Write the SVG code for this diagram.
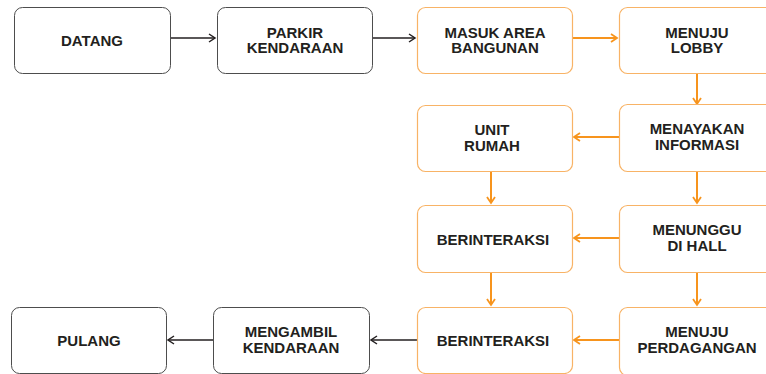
<svg xmlns="http://www.w3.org/2000/svg" width="766" height="374" viewBox="0 0 766 374">
<style>
.bk{fill:#fff;stroke:#4d4d4d;stroke-width:1}
.or{fill:#fff;stroke:#f8b366;stroke-width:1.2}
text{font-family:"Liberation Sans",Arial,sans-serif;font-weight:bold;font-size:15px;fill:#231f20;text-anchor:middle}
.cb{stroke:#231f20;stroke-width:1.5;fill:none}
.co{stroke:#f7941d;stroke-width:2;fill:none}
</style>
<defs>
<marker id="ab" markerWidth="10" markerHeight="10" refX="8" refY="5" orient="auto" markerUnits="userSpaceOnUse"><path d="M2,1 L8,5 L2,9" fill="none" stroke="#231f20" stroke-width="1.5"/></marker>
<marker id="ao" markerWidth="10" markerHeight="10" refX="8" refY="5" orient="auto" markerUnits="userSpaceOnUse"><path d="M2,1 L8,5 L2,9" fill="none" stroke="#f7941d" stroke-width="1.8"/></marker>
</defs>
<g id="connectors">
<line class="cb" x1="170" y1="38" x2="215" y2="38" marker-end="url(#ab)"/>
<line class="cb" x1="372" y1="38" x2="415" y2="38" marker-end="url(#ab)"/>
<line class="co" x1="573" y1="38" x2="617" y2="38" marker-end="url(#ao)"/>
<line class="co" x1="697" y1="73" x2="697" y2="104" marker-end="url(#ao)"/>
<line class="co" x1="619" y1="137" x2="574" y2="137" marker-end="url(#ao)"/>
<line class="co" x1="491" y1="171" x2="491" y2="203" marker-end="url(#ao)"/>
<line class="co" x1="697" y1="171" x2="697" y2="203" marker-end="url(#ao)"/>
<line class="co" x1="619" y1="238" x2="574" y2="238" marker-end="url(#ao)"/>
<line class="co" x1="491" y1="272" x2="491" y2="305" marker-end="url(#ao)"/>
<line class="co" x1="697" y1="272" x2="697" y2="305" marker-end="url(#ao)"/>
<line class="co" x1="619" y1="340" x2="574" y2="340" marker-end="url(#ao)"/>
<line class="cb" x1="417" y1="340" x2="371" y2="340" marker-end="url(#ab)"/>
<line class="cb" x1="213" y1="340" x2="168" y2="340" marker-end="url(#ab)"/>
</g>
<g id="datang"><rect class="bk" x="14.5" y="7.5" width="156" height="66" rx="8"/><text x="92" y="45.5">DATANG</text></g>
<g id="parkir"><rect class="bk" x="217.5" y="7.5" width="155" height="66" rx="8"/><text x="295" y="37.7">PARKIR</text><text x="295" y="53.3">KENDARAAN</text></g>
<g id="masuk"><rect class="or" x="417.5" y="7.5" width="155" height="66" rx="8"/><text x="495" y="37.7">MASUK AREA</text><text x="495" y="53.3">BANGUNAN</text></g>
<g id="lobby"><rect class="or" x="619.5" y="7.5" width="155" height="66" rx="8"/><text x="697" y="37.7">MENUJU</text><text x="697" y="53.3">LOBBY</text></g>
<g id="unit"><rect class="or" x="417.5" y="105.5" width="155" height="66" rx="8"/><text x="492" y="135">UNIT</text><text x="492" y="150.6">RUMAH</text></g>
<g id="menayakan"><rect class="or" x="619.5" y="104.5" width="155" height="67" rx="8"/><text x="697" y="134">MENAYAKAN</text><text x="697" y="149.6">INFORMASI</text></g>
<g id="berinteraksi1"><rect class="or" x="417.5" y="205.5" width="155" height="67" rx="8"/><text x="493" y="244.5">BERINTERAKSI</text></g>
<g id="menunggu"><rect class="or" x="619.5" y="205.5" width="155" height="67" rx="8"/><text x="697" y="235">MENUNGGU</text><text x="697" y="250.6">DI HALL</text></g>
<g id="pulang"><rect class="bk" x="11.5" y="307.5" width="155" height="66" rx="8"/><text x="89" y="346">PULANG</text></g>
<g id="mengambil"><rect class="bk" x="213.5" y="307.5" width="156" height="66" rx="8"/><text x="291" y="337">MENGAMBIL</text><text x="291" y="352.6">KENDARAAN</text></g>
<g id="berinteraksi2"><rect class="or" x="417.5" y="307.5" width="155" height="66" rx="8"/><text x="493" y="346">BERINTERAKSI</text></g>
<g id="perdagangan"><rect class="or" x="619.5" y="307.5" width="155" height="68" rx="8"/><text x="697" y="337">MENUJU</text><text x="697" y="352.6">PERDAGANGAN</text></g>
</svg>
